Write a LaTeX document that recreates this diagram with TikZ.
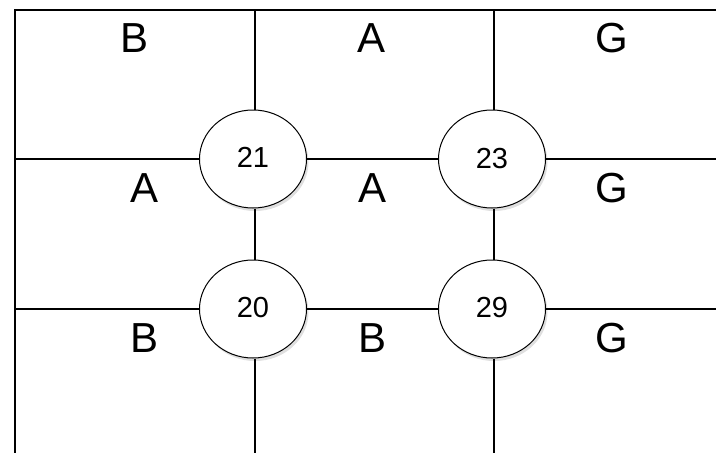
\documentclass[tikz,border=0pt]{standalone}
\usepackage{fontspec}
\setmainfont{Liberation Sans}
\usetikzlibrary{shadows,shapes.geometric}
\begin{document}
\begin{tikzpicture}[x=1pt,y=1pt,
  grid/.style={line width=1.8pt},
  hgrid/.style={line width=1.4pt},
  cell/.style={font=\fontsize{42}{42}\selectfont},
  junction/.style={ellipse, draw, line width=1pt, fill=white, minimum width=107pt, minimum height=98pt, inner sep=0pt,
     font=\fontsize{29}{29}\selectfont,
     drop shadow={shadow xshift=2pt, shadow yshift=-3pt, opacity=0.25}}]
\useasboundingbox (0,0) rectangle (716,-453);
% coordinates of line ends
\coordinate (tl) at (15,-10);
\coordinate (tr) at (716,-10);
\coordinate (bl) at (15,-453);
\coordinate (t1) at (255,-10);
\coordinate (t2) at (494,-10);
\coordinate (b1) at (255,-453);
\coordinate (b2) at (494,-453);
\coordinate (l1) at (15,-159);
\coordinate (l2) at (15,-309);
\coordinate (r1) at (716,-159);
\coordinate (r2) at (716,-309);
% border
\draw[grid] (bl) -- (tl) -- (tr);
% junction nodes
\node[junction] (n21) at (253,-159) {\raisebox{4pt}{21}};
\node[junction] (n23) at (492,-159) {\raisebox{2pt}{23}};
\node[junction] (n20) at (253,-309) {\raisebox{4pt}{20}};
\node[junction] (n29) at (492,-309) {\raisebox{3pt}{29}};
% connectors
\draw[grid] (t1) -- (t1 |- n21.north);
\draw[grid] (t1 |- n21.south) -- (t1 |- n20.north);
\draw[grid] (t1 |- n20.south) -- (b1);
\draw[grid] (t2) -- (t2 |- n23.north);
\draw[grid] (t2 |- n23.south) -- (t2 |- n29.north);
\draw[grid] (t2 |- n29.south) -- (b2);
\draw[hgrid] (l1) -- (n21);
\draw[hgrid] (n21) -- (n23);
\draw[hgrid] (n23) -- (r1);
\draw[hgrid] (l2) -- (n20);
\draw[hgrid] (n20) -- (n29);
\draw[hgrid] (n29) -- (r2);
% cell labels
\node[cell] (c11) at (135,-38) {B};
\node[cell] (c12) at (372,-38) {A};
\node[cell] (c13) at (612,-38) {G};
\node[cell] (c21) at (145,-188) {A};
\node[cell] (c22) at (373,-188) {A};
\node[cell] (c23) at (612,-188) {G};
\node[cell] (c31) at (145,-338) {B};
\node[cell] (c32) at (373,-338) {B};
\node[cell] (c33) at (612,-338) {G};
\end{tikzpicture}
\end{document}
